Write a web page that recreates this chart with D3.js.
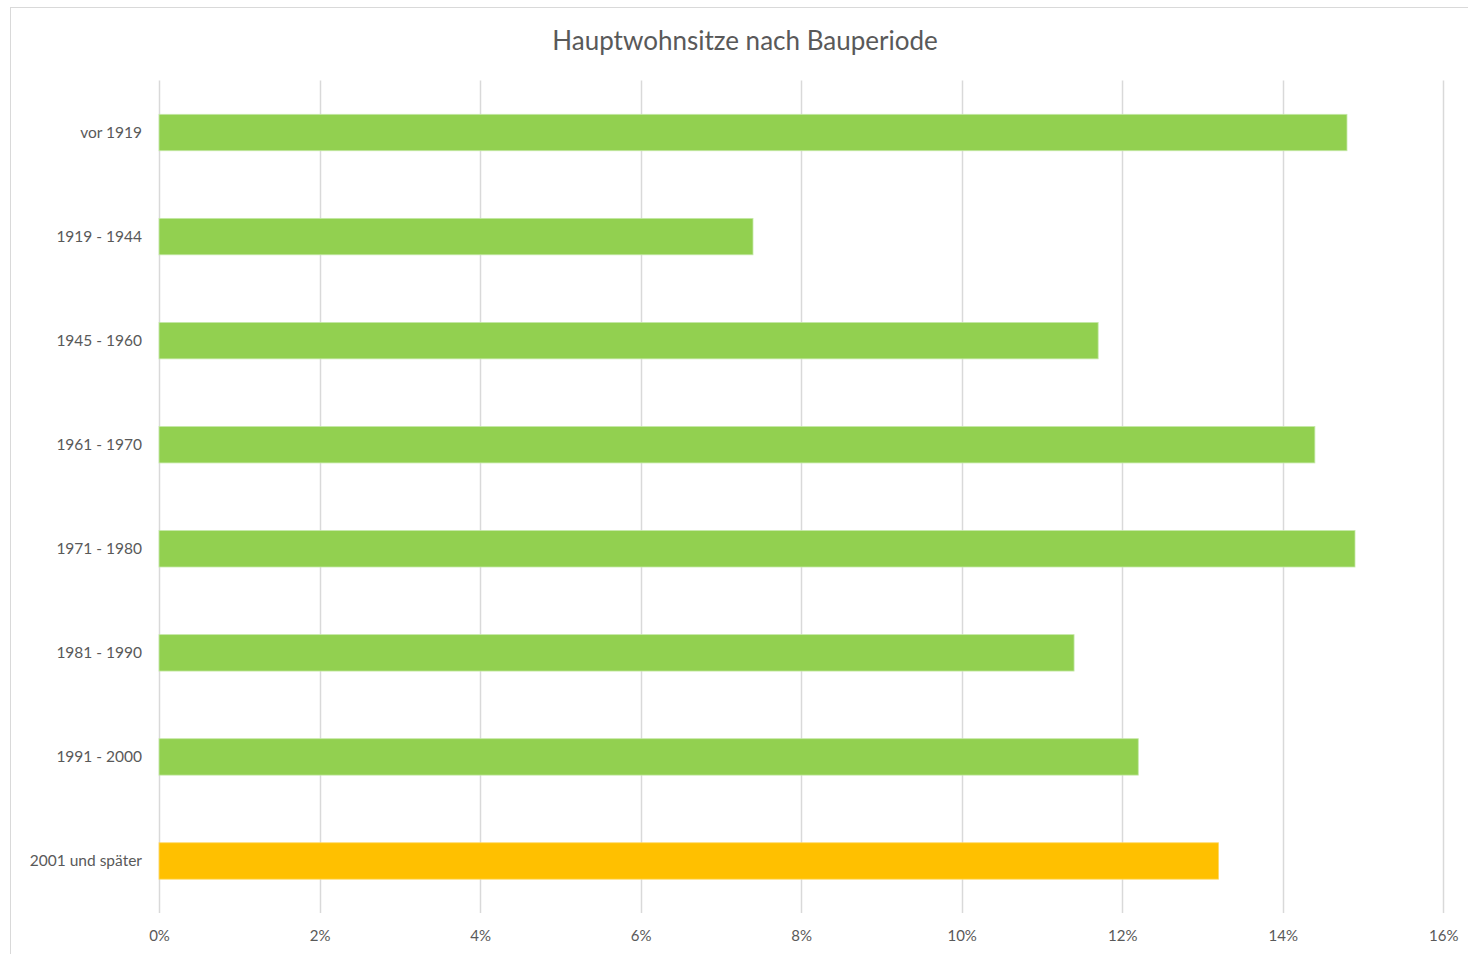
<!DOCTYPE html>
<html>
<head>
<meta charset="utf-8">
<script src="https://cdn.jsdelivr.net/npm/d3@7"></script>
<style>
  body { margin: 0; background: #fff; }
  svg { display: block; font-family: Lato, "Open Sans", sans-serif; }
</style>
</head>
<body>
<svg id="chart" width="1468" height="954"></svg>
<script>
// data (percent)
const categories = ["vor 1919", "1919 - 1944", "1945 - 1960", "1961 - 1970",
  "1971 - 1980", "1981 - 1990", "1991 - 2000", "2001 und später"];
const shares = [14.8, 7.4, 11.7, 14.4, 14.9, 11.4, 12.2, 13.2];
const highlight = ["2001 und später"];
const xTicks = [0, 2, 4, 6, 8, 10, 12, 14, 16];

const svg = d3.select("#chart");
const margin = { top: 80.5, right: 25, bottom: 41, left: 159 };
const width = 1468;
const height = 954;

// chart frame
svg.append("rect")
  .attr("x", 10.5).attr("y", 7.5)
  .attr("width", width).attr("height", height)
  .attr("fill", "#fff")
  .attr("stroke", "#d9d9d9");

// title
svg.append("text")
  .attr("x", 745).attr("y", 50)
  .attr("text-anchor", "middle")
  .attr("font-size", "26px")
  .attr("fill", "#595959")
  .text("Hauptwohnsitze nach Bauperiode");

const x = d3.scaleLinear()
  .domain([0, 16])
  .range([margin.left, 1443.3]);

const y = d3.scaleBand()
  .domain(categories)
  .range([margin.top, height - margin.bottom])
  .paddingInner(0.65)
  .paddingOuter(0.325);

// vertical gridlines
svg.append("g")
  .selectAll("line")
  .data(xTicks)
  .join("line")
  .attr("x1", (d) => Math.round(x(d)) + 0.5)
  .attr("x2", (d) => Math.round(x(d)) + 0.5)
  .attr("y1", margin.top)
  .attr("y2", height - margin.bottom)
  .attr("stroke", "#d9d9d9")
  .attr("stroke-width", 1.5);

// bars
svg.append("g")
  .selectAll("rect")
  .data(categories)
  .join("rect")
  .attr("x", x(0))
  .attr("y", (d) => y(d))
  .attr("width", (d, i) => x(shares[i]) - x(0))
  .attr("height", y.bandwidth())
  .attr("fill", (d) => highlight.includes(d) ? "#ffc000" : "#92d050")
  .attr("stroke", (d) => highlight.includes(d) ? "#ffd966" : "#c5e8a8")
  .attr("stroke-width", 0.8);

// x axis labels
const xAxis = d3.axisBottom(x)
  .tickValues(xTicks)
  .tickSize(0)
  .tickPadding(0)
  .tickFormat((d) => d + "%");

svg.append("g")
  .attr("transform", `translate(0, ${height - margin.bottom + 17})`)
  .call(xAxis)
  .call((g) => g.select(".domain").remove())
  .call((g) => g.selectAll("text")
    .attr("font-size", "15px")
    .attr("font-family", "Lato, 'Open Sans', sans-serif")
    .attr("fill", "#595959"));

// category labels
const yAxis = d3.axisLeft(y)
  .tickSize(0)
  .tickPadding(17);

svg.append("g")
  .attr("transform", `translate(${margin.left}, 0)`)
  .call(yAxis)
  .call((g) => g.select(".domain").remove())
  .call((g) => g.selectAll("text")
    .attr("font-size", "15.5px")
    .attr("font-family", "Lato, 'Open Sans', sans-serif")
    .attr("fill", "#595959"));
</script>
</body>
</html>
